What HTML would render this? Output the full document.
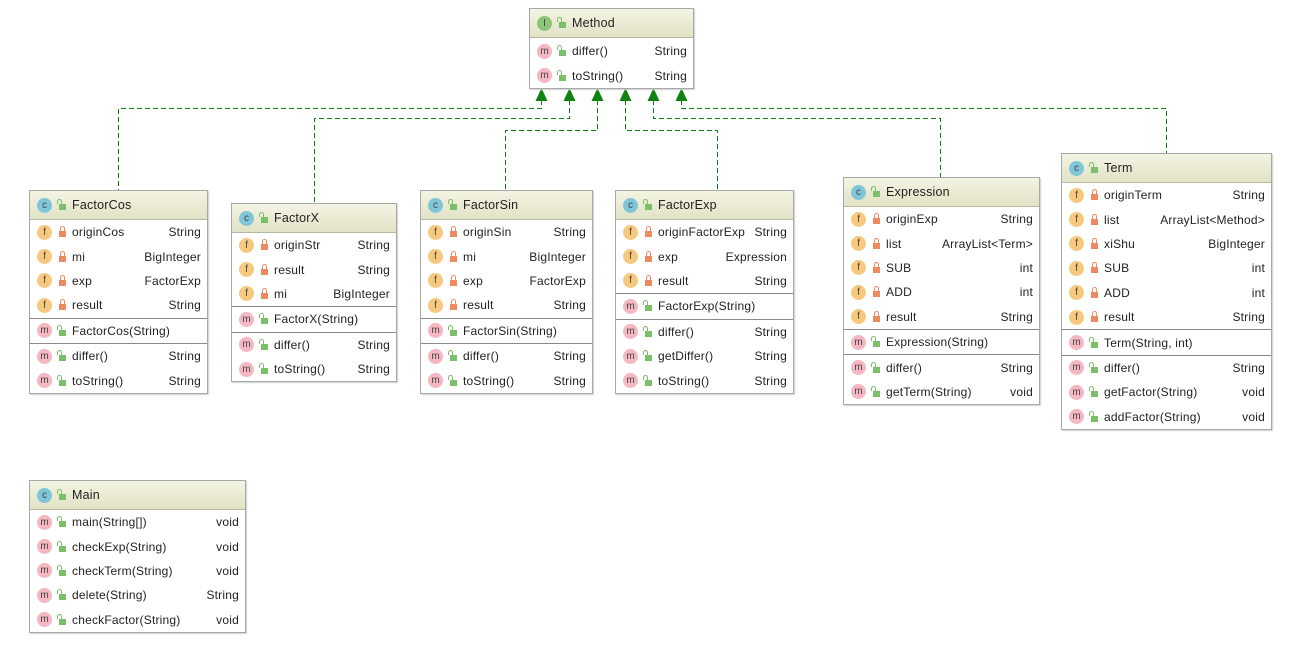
<!DOCTYPE html>
<html><head><meta charset="utf-8">
<style>
body{margin:0;width:1310px;height:649px;background:#fff;position:relative;overflow:hidden;font-family:"Liberation Sans","DejaVu Sans",sans-serif;font-size:12px;color:#222;letter-spacing:0.2px}
.box{position:absolute;border:1px solid #a8a8a8;background:#fff;box-shadow:1px 1px 1px #d0d0d0}
.h{height:28px;border-bottom:1px solid #b8b8a0;background:linear-gradient(#f4f4e4,#e2e2c6);display:flex;align-items:center;padding-left:7px;font-size:12.5px}
.r{height:24.4px;display:flex;align-items:center;padding:0 6px 0 7px;white-space:nowrap}
.sep{border-top:1px solid #8a8a8a}
.n{flex:1;margin-left:6px}
.t{text-align:right}
.b{display:inline-block;width:15px;height:15px;border-radius:50%;font-style:normal;font-size:10px;line-height:15px;text-align:center;color:#444;flex:none;letter-spacing:0}
.f{background:#f7c97e}
.m{background:#f5b7c2}
.c{background:#7ec6d8}
.I{background:#8cc47a}
.lk{display:inline-block;width:7px;height:6px;margin-left:7px;position:relative;flex:none;margin-top:4px}
.lk:before{content:"";position:absolute;left:1px;top:-5px;width:3px;height:4px;border:1px solid;border-bottom:none;border-radius:3px 3px 0 0}
.pr{background:#ee8a62}.pr:before{border-color:#ee8a62}
.pu{background:#7cbf6a}.pu:before{border-color:#7cbf6a;left:-2px}
</style></head><body>
<svg width="1310" height="649" style="position:absolute;left:0;top:0">
<g fill="none" stroke="#0d7f0d" stroke-width="1" stroke-dasharray="5,3" shape-rendering="crispEdges">
<path d="M541.5 100V108.5H118.5V190"/>
<path d="M569.5 100V118.5H314.5V203"/>
<path d="M597.5 100V130.5H505.5V190"/>
<path d="M625.5 100V130.5H717.5V190"/>
<path d="M653.5 100V118.5H940.5V177"/>
<path d="M681.5 100V108.5H1166.5V153"/>
</g>
<g fill="#0f820f">
<path d="M541.5 88l-6 13h12z"/><path d="M569.5 88l-6 13h12z"/><path d="M597.5 88l-6 13h12z"/>
<path d="M625.5 88l-6 13h12z"/><path d="M653.5 88l-6 13h12z"/><path d="M681.5 88l-6 13h12z"/>
</g>
</svg>

<div class="box" style="left:529px;top:8px;width:163px">
<div class="h"><i class="b I">I</i><i class="lk pu"></i><span class="n">Method</span></div>
<div style="height:1px"></div>
<div class="r"><i class="b m">m</i><i class="lk pu"></i><span class="n">differ()</span><span class="t">String</span></div>
<div class="r"><i class="b m">m</i><i class="lk pu"></i><span class="n">toString()</span><span class="t">String</span></div>
</div>

<div class="box" style="left:29px;top:190px;width:177px">
<div class="h"><i class="b c">c</i><i class="lk pu"></i><span class="n">FactorCos</span></div>
<div class="r"><i class="b f">f</i><i class="lk pr"></i><span class="n">originCos</span><span class="t">String</span></div>
<div class="r"><i class="b f">f</i><i class="lk pr"></i><span class="n">mi</span><span class="t">BigInteger</span></div>
<div class="r"><i class="b f">f</i><i class="lk pr"></i><span class="n">exp</span><span class="t">FactorExp</span></div>
<div class="r"><i class="b f">f</i><i class="lk pr"></i><span class="n">result</span><span class="t">String</span></div>
<div class="sep"></div>
<div class="r"><i class="b m">m</i><i class="lk pu"></i><span class="n">FactorCos(String)</span></div>
<div class="sep"></div>
<div class="r"><i class="b m">m</i><i class="lk pu"></i><span class="n">differ()</span><span class="t">String</span></div>
<div class="r"><i class="b m">m</i><i class="lk pu"></i><span class="n">toString()</span><span class="t">String</span></div>
</div>

<div class="box" style="left:231px;top:203px;width:164px">
<div class="h"><i class="b c">c</i><i class="lk pu"></i><span class="n">FactorX</span></div>
<div class="r"><i class="b f">f</i><i class="lk pr"></i><span class="n">originStr</span><span class="t">String</span></div>
<div class="r"><i class="b f">f</i><i class="lk pr"></i><span class="n">result</span><span class="t">String</span></div>
<div class="r"><i class="b f">f</i><i class="lk pr"></i><span class="n">mi</span><span class="t">BigInteger</span></div>
<div class="sep"></div>
<div class="r"><i class="b m">m</i><i class="lk pu"></i><span class="n">FactorX(String)</span></div>
<div class="sep"></div>
<div class="r"><i class="b m">m</i><i class="lk pu"></i><span class="n">differ()</span><span class="t">String</span></div>
<div class="r"><i class="b m">m</i><i class="lk pu"></i><span class="n">toString()</span><span class="t">String</span></div>
</div>

<div class="box" style="left:420px;top:190px;width:171px">
<div class="h"><i class="b c">c</i><i class="lk pu"></i><span class="n">FactorSin</span></div>
<div class="r"><i class="b f">f</i><i class="lk pr"></i><span class="n">originSin</span><span class="t">String</span></div>
<div class="r"><i class="b f">f</i><i class="lk pr"></i><span class="n">mi</span><span class="t">BigInteger</span></div>
<div class="r"><i class="b f">f</i><i class="lk pr"></i><span class="n">exp</span><span class="t">FactorExp</span></div>
<div class="r"><i class="b f">f</i><i class="lk pr"></i><span class="n">result</span><span class="t">String</span></div>
<div class="sep"></div>
<div class="r"><i class="b m">m</i><i class="lk pu"></i><span class="n">FactorSin(String)</span></div>
<div class="sep"></div>
<div class="r"><i class="b m">m</i><i class="lk pu"></i><span class="n">differ()</span><span class="t">String</span></div>
<div class="r"><i class="b m">m</i><i class="lk pu"></i><span class="n">toString()</span><span class="t">String</span></div>
</div>

<div class="box" style="left:615px;top:190px;width:177px">
<div class="h"><i class="b c">c</i><i class="lk pu"></i><span class="n">FactorExp</span></div>
<div class="r"><i class="b f">f</i><i class="lk pr"></i><span class="n">originFactorExp</span><span class="t">String</span></div>
<div class="r"><i class="b f">f</i><i class="lk pr"></i><span class="n">exp</span><span class="t">Expression</span></div>
<div class="r"><i class="b f">f</i><i class="lk pr"></i><span class="n">result</span><span class="t">String</span></div>
<div class="sep"></div>
<div class="r"><i class="b m">m</i><i class="lk pu"></i><span class="n">FactorExp(String)</span></div>
<div class="sep"></div>
<div class="r"><i class="b m">m</i><i class="lk pu"></i><span class="n">differ()</span><span class="t">String</span></div>
<div class="r"><i class="b m">m</i><i class="lk pu"></i><span class="n">getDiffer()</span><span class="t">String</span></div>
<div class="r"><i class="b m">m</i><i class="lk pu"></i><span class="n">toString()</span><span class="t">String</span></div>
</div>

<div class="box" style="left:843px;top:177px;width:195px">
<div class="h"><i class="b c">c</i><i class="lk pu"></i><span class="n">Expression</span></div>
<div class="r"><i class="b f">f</i><i class="lk pr"></i><span class="n">originExp</span><span class="t">String</span></div>
<div class="r"><i class="b f">f</i><i class="lk pr"></i><span class="n">list</span><span class="t">ArrayList&lt;Term&gt;</span></div>
<div class="r"><i class="b f">f</i><i class="lk pr"></i><span class="n">SUB</span><span class="t">int</span></div>
<div class="r"><i class="b f">f</i><i class="lk pr"></i><span class="n">ADD</span><span class="t">int</span></div>
<div class="r"><i class="b f">f</i><i class="lk pr"></i><span class="n">result</span><span class="t">String</span></div>
<div class="sep"></div>
<div class="r"><i class="b m">m</i><i class="lk pu"></i><span class="n">Expression(String)</span></div>
<div class="sep"></div>
<div class="r"><i class="b m">m</i><i class="lk pu"></i><span class="n">differ()</span><span class="t">String</span></div>
<div class="r"><i class="b m">m</i><i class="lk pu"></i><span class="n">getTerm(String)</span><span class="t">void</span></div>
</div>

<div class="box" style="left:1061px;top:153px;width:209px">
<div class="h"><i class="b c">c</i><i class="lk pu"></i><span class="n">Term</span></div>
<div class="r"><i class="b f">f</i><i class="lk pr"></i><span class="n">originTerm</span><span class="t">String</span></div>
<div class="r"><i class="b f">f</i><i class="lk pr"></i><span class="n">list</span><span class="t">ArrayList&lt;Method&gt;</span></div>
<div class="r"><i class="b f">f</i><i class="lk pr"></i><span class="n">xiShu</span><span class="t">BigInteger</span></div>
<div class="r"><i class="b f">f</i><i class="lk pr"></i><span class="n">SUB</span><span class="t">int</span></div>
<div class="r"><i class="b f">f</i><i class="lk pr"></i><span class="n">ADD</span><span class="t">int</span></div>
<div class="r"><i class="b f">f</i><i class="lk pr"></i><span class="n">result</span><span class="t">String</span></div>
<div class="sep"></div>
<div class="r"><i class="b m">m</i><i class="lk pu"></i><span class="n">Term(String, int)</span></div>
<div class="sep"></div>
<div class="r"><i class="b m">m</i><i class="lk pu"></i><span class="n">differ()</span><span class="t">String</span></div>
<div class="r"><i class="b m">m</i><i class="lk pu"></i><span class="n">getFactor(String)</span><span class="t">void</span></div>
<div class="r"><i class="b m">m</i><i class="lk pu"></i><span class="n">addFactor(String)</span><span class="t">void</span></div>
</div>

<div class="box" style="left:29px;top:480px;width:215px">
<div class="h"><i class="b c">c</i><i class="lk pu"></i><span class="n">Main</span></div>
<div class="r"><i class="b m">m</i><i class="lk pu"></i><span class="n">main(String[])</span><span class="t">void</span></div>
<div class="r"><i class="b m">m</i><i class="lk pu"></i><span class="n">checkExp(String)</span><span class="t">void</span></div>
<div class="r"><i class="b m">m</i><i class="lk pu"></i><span class="n">checkTerm(String)</span><span class="t">void</span></div>
<div class="r"><i class="b m">m</i><i class="lk pu"></i><span class="n">delete(String)</span><span class="t">String</span></div>
<div class="r"><i class="b m">m</i><i class="lk pu"></i><span class="n">checkFactor(String)</span><span class="t">void</span></div>
</div>
</body></html>
